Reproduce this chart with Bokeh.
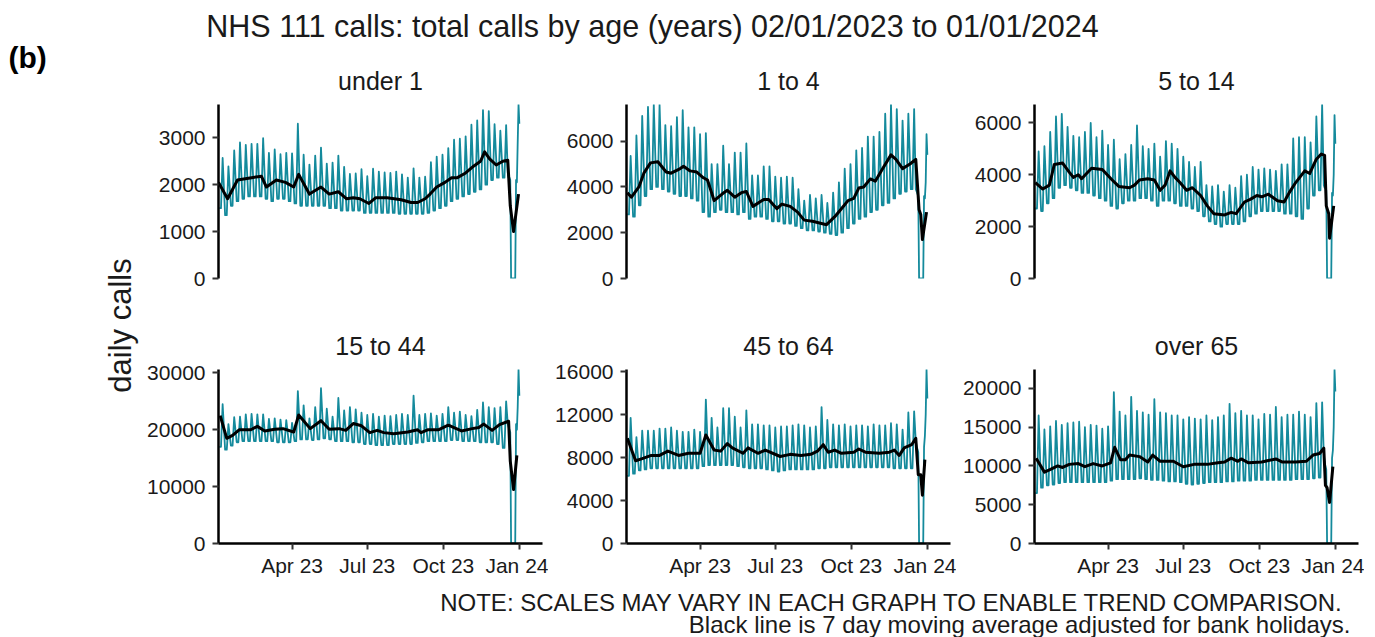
import numpy as np
import pandas as pd
from math import pi
from bokeh.plotting import figure
from bokeh.layouts import row, column
from bokeh.models import Range1d, FixedTicker
from bokeh.core.properties import value
from bokeh.embed import file_html
from bokeh.resources import INLINE

# ---------------- texts ----------------
TITLE = "NHS 111 calls: total calls by age (years) 02/01/2023 to 01/01/2024"
PANEL_LABEL = "(b)"
Y_LABEL = "daily calls"
NOTE_1 = "NOTE: SCALES MAY VARY IN EACH GRAPH TO ENABLE TREND COMPARISON."
NOTE_2 = "Black line is 7 day moving average adjusted for bank holidays."

AGE_GROUPS = ["under 1", "1 to 4", "5 to 14", "15 to 44", "45 to 64", "over 65"]
FIRST_DAY = "2023-01-02"          # Monday, first day of the series
TAIL_FIRST_DAY = "2023-12-18"     # daily values from here to 01/01/2024
X_END = "2024-01-29"
X_TICK_DATES = ["2023-04-01", "2023-07-01", "2023-10-01", "2024-01-01"]
X_TICK_LABELS = ["Apr 23", "Jul 23", "Oct 23", "Jan 24"]

# ---------------- data ----------------
# weekly Saturday peaks, weekday lows (50 weeks from 02/01/2023), daily tail 18/12 - 01/01,
# 7 day moving average (day number since 02/01/2023, value)

# under 1
PEAK_U1 = [2570, 2390, 2730, 2900, 2850, 2870, 2870, 2990, 2680, 2750, 2650, 2680, 2670, 3300, 2640, 2430, 2620,
           2790, 2450, 2470, 2620, 2380, 2230, 2240, 2330, 2180, 2340, 2280, 2260, 2250, 2280, 2220, 2150, 2350,
           2150, 2170, 2480, 2600, 2640, 2780, 2960, 2980, 3030, 3280, 3370, 3590, 3570, 3290, 3150, 3270]
LOW_U1 = [1500, 1350, 1550, 1650, 1700, 1750, 1750, 1750, 1700, 1650, 1700, 1700, 1650, 1600, 1550, 1550, 1550,
          1550, 1550, 1500, 1500, 1450, 1450, 1450, 1450, 1400, 1400, 1400, 1400, 1400, 1400, 1380, 1380, 1380,
          1380, 1380, 1400, 1450, 1500, 1550, 1650, 1700, 1750, 1800, 1850, 1900, 2000, 2100, 2150, 2150]
TAIL_U1 = [2250, 2150, 2150, 2100, 0, 0, 0, 0, 0, 0, 2100, 2050, 2900, 3710, 3300]
MA_DAY_U1 = [0, 11, 23, 40, 52, 58, 70, 81, 91, 97, 110, 124, 134, 145, 155, 163, 171, 182, 190, 204, 221, 233,
             241, 250, 256, 264, 274, 282, 289, 299, 309, 317, 322, 328, 336, 344, 350, 353, 357, 363]
MA_U1 = [2050, 1700, 2100, 2150, 2180, 1950, 2100, 2050, 1950, 2220, 1800, 1950, 1800, 1850, 1700, 1720, 1700,
         1600, 1720, 1720, 1680, 1620, 1620, 1700, 1800, 1950, 2050, 2150, 2150, 2250, 2400, 2500, 2700, 2550,
         2420, 2500, 2520, 1550, 1000, 1800]
YTICKS_U1 = [0, 1000, 2000, 3000]

# 1 to 4
PEAK_1T4 = [5350, 6250, 7100, 7500, 7600, 7600, 6700, 6650, 7050, 7350, 6600, 6600, 6300, 6350, 5000, 5000, 5800,
            5000, 5500, 5500, 5900, 4500, 4500, 4900, 4900, 4450, 4400, 4450, 4400, 3900, 3400, 3650, 3500, 3650,
            3300, 3750, 4200, 4800, 5000, 5600, 5700, 6200, 6200, 6400, 7200, 7600, 7400, 6900, 7200, 7400]
LOW_1T4 = [2800, 2700, 3200, 3600, 3900, 4000, 3900, 3800, 3700, 3600, 3600, 3500, 3400, 2900, 2700, 2900, 3000,
           2900, 2900, 2800, 2900, 2600, 2700, 2700, 2600, 2500, 2500, 2400, 2400, 2300, 2200, 2100, 2100, 2050,
           2000, 1950, 1900, 2000, 2200, 2400, 2600, 2700, 2900, 3000, 3200, 3300, 3500, 3700, 3800, 3900]
TAIL_1T4 = [3900, 3800, 3700, 3600, 0, 0, 0, 0, 0, 0, 3600, 3500, 4200, 6300, 5400]
MA_DAY_1T4 = [1, 6, 15, 21, 29, 38, 48, 54, 65, 69, 77, 85, 93, 98, 106, 116, 122, 131, 139, 145, 153, 166, 172,
              182, 188, 198, 207, 215, 225, 242, 252, 260, 268, 275, 281, 287, 295, 301, 310, 320, 326, 334, 343,
              350, 354, 356, 358, 363]
MA_1T4 = [3750, 3550, 4000, 4600, 5050, 5100, 4650, 4600, 4800, 4900, 4700, 4650, 4400, 4300, 3400, 3700, 3850,
          3550, 3750, 3800, 3150, 3450, 3450, 3050, 3250, 3150, 2900, 2550, 2500, 2350, 2700, 3050, 3400, 3500,
          3950, 4000, 4350, 4250, 4800, 5400, 5200, 4800, 5000, 5200, 3000, 2800, 1700, 2900]
YTICKS_1T4 = [0, 2000, 4000, 6000]

# 5 to 14
PEAK_5T14 = [4900, 5100, 5650, 6250, 6350, 5850, 5500, 5450, 5650, 6000, 5450, 5700, 5150, 5350, 4600, 4800, 5150,
             5900, 5100, 5000, 5200, 4700, 5300, 5200, 5000, 4700, 4500, 4300, 4500, 3600, 3550, 3600, 3350, 3600,
             3500, 3950, 4000, 4300, 4200, 4250, 4200, 4150, 4400, 4400, 5400, 5450, 5450, 5250, 6250, 6710]
LOW_5T14 = [2700, 2600, 2900, 3100, 3500, 3600, 3500, 3400, 3300, 3300, 3200, 3100, 3000, 2800, 2700, 2900, 3000,
            3000, 3100, 3100, 3000, 2800, 3000, 3000, 2900, 2800, 2800, 2700, 2600, 2400, 2200, 2100, 2000, 2100,
            2100, 2100, 2200, 2400, 2500, 2600, 2600, 2600, 2600, 2500, 2500, 2400, 2300, 2700, 3200, 3400]
TAIL_5T14 = [3600, 3500, 3500, 3400, 0, 0, 0, 0, 0, 0, 3300, 3200, 4000, 6300, 5200]
MA_DAY_5T14 = [1, 10, 18, 24, 34, 42, 47, 53, 57, 63, 69, 82, 94, 102, 115, 121, 127, 137, 145, 152, 158, 164, 170,
               176, 184, 191, 201, 209, 217, 230, 238, 244, 254, 261, 269, 275, 283, 294, 302, 308, 316, 327, 333,
               341, 347, 351, 353, 356, 357, 362]
MA_5T14 = [3700, 3450, 3600, 4400, 4450, 4100, 3900, 4000, 3850, 4050, 4250, 4200, 3800, 3550, 3500, 3600, 3800,
           3850, 3800, 3400, 3600, 4150, 3900, 3700, 3400, 3500, 3200, 2800, 2500, 2450, 2550, 2500, 2950, 3050,
           3200, 3150, 3250, 3000, 2950, 3300, 3700, 4150, 4050, 4600, 4800, 4750, 2800, 2500, 1550, 2800]
YTICKS_5T14 = [0, 2000, 4000, 6000]

# 15 to 44
PEAK_15T44 = [24500, 21000, 22200, 22300, 22700, 22800, 22700, 22700, 21900, 22000, 21800, 21700, 21200, 26800,
              24300, 22000, 24000, 27300, 23700, 22300, 25600, 23400, 24000, 23600, 23000, 22600, 22800, 22300,
              22500, 22400, 22600, 22800, 22600, 26000, 22600, 22800, 22900, 22500, 22800, 24000, 23000, 23200,
              22600, 22400, 23500, 24800, 24000, 23800, 24000, 25000]
LOW_15T44 = [17000, 16500, 17200, 17800, 18000, 18000, 18000, 18000, 18000, 18000, 17800, 17800, 17800, 18000,
             18300, 18300, 18200, 18300, 18500, 18300, 18000, 18000, 18000, 17800, 17800, 17500, 17500, 17300,
             17300, 17300, 17500, 17500, 17500, 17500, 17700, 17800, 18000, 18000, 18000, 18000, 18200, 18200,
             18000, 18000, 18000, 17800, 17800, 17800, 17500, 16800]
TAIL_15T44 = [21000, 20500, 20000, 19500, 0, 0, 0, 0, 0, 0, 21000, 20000, 24000, 30600, 26000]
MA_DAY_15T44 = [2, 10, 17, 25, 39, 47, 56, 68, 78, 91, 97, 111, 124, 134, 146, 154, 163, 173, 183, 192, 200, 212,
                229, 241, 245, 253, 266, 278, 294, 307, 315, 321, 331, 340, 351, 353, 357, 361]
MA_15T44 = [22500, 18500, 19000, 20000, 20000, 20600, 19800, 20100, 20200, 19600, 22600, 20200, 21600, 20100,
            20200, 19900, 21100, 20700, 19500, 19900, 19500, 19300, 19600, 20000, 19500, 20000, 20000, 20800,
            19800, 20200, 20400, 21000, 19900, 20900, 21500, 14500, 9500, 15500]
YTICKS_15T44 = [0, 10000, 20000, 30000]

# 45 to 64
PEAK_45T64 = [11700, 9900, 10500, 10500, 10500, 10700, 10700, 10800, 10500, 10400, 10400, 10600, 10400, 13400,
              11700, 10800, 12600, 12600, 11800, 10800, 12400, 11100, 11100, 11000, 11000, 10800, 10900, 10900,
              11000, 11100, 11000, 10800, 10900, 12700, 11500, 11100, 11000, 11100, 10900, 11000, 11000, 10900,
              11100, 11000, 11000, 11200, 11100, 10600, 12200, 12300]
LOW_45T64 = [6300, 6500, 6800, 6900, 7000, 7000, 7000, 7000, 7000, 7000, 7000, 7000, 7000, 7200, 7300, 7300, 7300,
             7300, 7300, 7200, 7100, 7000, 7000, 7000, 6900, 6800, 6700, 6800, 6900, 6900, 6900, 6900, 6900, 7000,
             7000, 7100, 7100, 7100, 7100, 7100, 7100, 7100, 7100, 7100, 7100, 7100, 7000, 7000, 7000, 7000]
TAIL_45T64 = [9500, 9000, 8800, 8500, 0, 0, 0, 0, 0, 0, 9000, 10000, 12000, 16200, 13500]
MA_DAY_45T64 = [1, 11, 19, 30, 40, 50, 63, 75, 89, 96, 106, 114, 122, 128, 141, 147, 159, 168, 186, 198, 211, 223,
                231, 238, 244, 252, 260, 275, 281, 289, 306, 318, 324, 330, 336, 345, 350, 353, 356, 358, 361]
MA_45T64 = [9800, 7700, 7900, 8200, 8200, 8600, 8200, 8400, 8400, 10100, 8700, 8600, 9300, 8900, 8400, 8900, 8400,
            8700, 8100, 8300, 8200, 8300, 8600, 9200, 8500, 8700, 8400, 8500, 8800, 8500, 8400, 8500, 8700, 8200,
            8900, 9200, 9800, 6400, 6400, 4500, 7800]
YTICKS_45T64 = [0, 4000, 8000, 12000, 16000]

# over 65
PEAK_O65 = [16500, 14700, 15100, 15800, 15300, 15500, 15600, 15700, 15000, 15300, 15200, 14800, 15100, 19500, 17000,
            16500, 18900, 17100, 16900, 16600, 18600, 16900, 16800, 16500, 16500, 16000, 16300, 16100, 16000, 16500,
            15900, 16300, 16500, 18000, 16800, 17100, 16500, 16500, 16000, 16700, 16600, 17600, 16300, 16600, 16600,
            17000, 16600, 16300, 18100, 18200]
LOW_O65 = [6500, 7200, 7500, 7600, 7800, 7900, 7900, 7900, 7900, 7900, 7900, 7900, 7900, 8100, 8300, 8300, 8300,
           8300, 8400, 8300, 8200, 8200, 8100, 8000, 8000, 7900, 7700, 7600, 7700, 7800, 7900, 7900, 7900, 8000,
           8000, 8100, 8100, 8100, 8200, 8200, 8200, 8200, 8200, 8200, 8200, 8300, 8300, 8300, 8400, 8500]
TAIL_O65 = [11500, 10500, 10000, 9500, 0, 0, 0, 0, 0, 0, 11000, 12000, 15000, 22430, 19600]
MA_DAY_O65 = [2, 12, 20, 28, 34, 42, 53, 61, 71, 82, 92, 97, 104, 110, 115, 127, 137, 143, 152, 168, 180, 193, 209,
              222, 230, 238, 246, 250, 259, 275, 283, 292, 300, 316, 329, 337, 345, 350, 352, 354, 357, 361]
MA_O65 = [11000, 9200, 9600, 10000, 9800, 10200, 10300, 9900, 10300, 10000, 10400, 12400, 10800, 10800, 11400,
          11200, 10500, 11400, 10600, 10600, 9900, 10200, 10200, 10400, 10500, 11000, 10600, 10900, 10400, 10500,
          10700, 10900, 10500, 10500, 10600, 11400, 11600, 12300, 7500, 7200, 5300, 9900]
YTICKS_O65 = [0, 5000, 10000, 15000, 20000]

PANELS = [
    (AGE_GROUPS[0], PEAK_U1, LOW_U1, TAIL_U1, MA_DAY_U1, MA_U1, YTICKS_U1),
    (AGE_GROUPS[1], PEAK_1T4, LOW_1T4, TAIL_1T4, MA_DAY_1T4, MA_1T4, YTICKS_1T4),
    (AGE_GROUPS[2], PEAK_5T14, LOW_5T14, TAIL_5T14, MA_DAY_5T14, MA_5T14, YTICKS_5T14),
    (AGE_GROUPS[3], PEAK_15T44, LOW_15T44, TAIL_15T44, MA_DAY_15T44, MA_15T44, YTICKS_15T44),
    (AGE_GROUPS[4], PEAK_45T64, LOW_45T64, TAIL_45T64, MA_DAY_45T64, MA_45T64, YTICKS_45T64),
    (AGE_GROUPS[5], PEAK_O65, LOW_O65, TAIL_O65, MA_DAY_O65, MA_O65, YTICKS_O65),
]

# ---------------- styles ----------------
FONT = "Liberation Sans"
TEAL = "#148A9C"
TEXT = "#1a1a1a"
START = pd.Timestamp(FIRST_DAY)
TAIL_START = pd.Timestamp(TAIL_FIRST_DAY)


def ms(ts):
    return pd.Timestamp(ts).value / 1e6


def day_ms(d, base=START):
    return ms(base + pd.Timedelta(days=int(d)))


def teal_series(peaks, lows, tail):
    xs, ys = [], []
    for k, (pk, lo) in enumerate(zip(peaks, lows)):
        # Tuesday and Thursday at the weekday level, Saturday peak
        for off, v in ((1, lo), (3, lo), (5, pk)):
            xs.append(day_ms(7 * k + off))
            ys.append(v)
    for i, v in enumerate(tail):
        xs.append(day_ms(i, TAIL_START))
        ys.append(v)
    return xs, ys


X0 = ms(FIRST_DAY)
X1 = ms(X_END)
XTICKS = [int(ms(d)) for d in X_TICK_DATES]

LEFT_W = 140
PANEL_W = 408
BORDER_L = 78
BORDER_R = 6
FRAME_H = 174
HEADER_H = 52
FOOTER_H = 52
ROW1 = (52, 12)   # top / bottom borders
ROW2 = (79, 42)
TOTAL_H = HEADER_H + (ROW1[0] + FRAME_H + ROW1[1]) + (ROW2[0] + FRAME_H + ROW2[1]) + FOOTER_H
RIGHT_W = 3 * PANEL_W


def style_axis(ax, ticks, standoff):
    ax.ticker = FixedTicker(ticks=ticks)
    ax.axis_line_color = "black"
    ax.axis_line_width = 2.5
    ax.major_tick_line_color = "#333333"
    ax.major_tick_line_width = 2
    ax.major_tick_out = 6
    ax.major_tick_in = 0
    ax.minor_tick_line_color = None
    ax.major_label_text_font = FONT
    ax.major_label_text_font_size = "21px"
    ax.major_label_text_color = TEXT
    ax.major_label_standoff = standoff


def make_panel(name, peaks, lows, tail, ma_day, ma, yticks, bottom_row):
    tx, ty = teal_series(peaks, lows, tail)
    ymax = max(max(ty), max(ma))
    top, bot = ROW2 if bottom_row else ROW1
    p = figure(width=PANEL_W, height=top + FRAME_H + bot,
               x_range=Range1d(X0, X1), y_range=Range1d(0, ymax),
               output_backend="svg", toolbar_location=None,
               min_border_left=BORDER_L, min_border_right=BORDER_R,
               min_border_top=top, min_border_bottom=bot, title=name)
    p.title.align = "center"
    p.title.text_font = FONT
    p.title.text_font_size = "25px"
    p.title.text_font_style = "normal"
    p.title.text_color = TEXT
    p.title.standoff = 20
    p.outline_line_color = None
    p.xgrid.visible = False
    p.ygrid.visible = False
    p.background_fill_color = "white"
    p.border_fill_color = "white"

    p.line(tx, ty, line_color=TEAL, line_width=1.8, line_join="round")
    p.line([day_ms(d) for d in ma_day], ma, line_color="black", line_width=3, line_join="round")

    for ax in p.yaxis:
        style_axis(ax, yticks, 7)
    for ax in p.xaxis:
        if not bottom_row:
            ax.visible = False
            continue
        style_axis(ax, XTICKS, 4)
        ax.major_label_overrides = {t: lab for t, lab in zip(XTICKS, X_TICK_LABELS)}
    return p


def blank(width, height):
    p = figure(width=width, height=height, x_range=Range1d(0, width), y_range=Range1d(0, height),
               output_backend="svg", toolbar_location=None, x_axis_location=None, y_axis_location=None,
               title=None, min_border_left=0, min_border_right=0, min_border_top=0, min_border_bottom=0)
    p.outline_line_color = None
    p.xgrid.visible = False
    p.ygrid.visible = False
    return p


panels = [make_panel(*spec, bottom_row=(i >= 3)) for i, spec in enumerate(PANELS)]

# text centres (page pixels from the top)
left = blank(LEFT_W, TOTAL_H)
left.text(x=[8], y=[TOTAL_H - 57], text=[PANEL_LABEL], text_font=value(FONT), text_font_size="30px",
          text_font_style="bold", text_color="black", text_align="left", text_baseline="middle")
left.text(x=[120], y=[TOTAL_H - 325], text=[Y_LABEL], text_font=value(FONT), text_font_size="31px",
          text_color=TEXT, text_align="center", text_baseline="middle", angle=pi / 2)

header = blank(RIGHT_W, HEADER_H)
header.text(x=[652 - LEFT_W], y=[HEADER_H - 25], text=[TITLE], text_font=value(FONT), text_font_size="30.5px",
            text_color=TEXT, text_align="center", text_baseline="middle")

footer = blank(RIGHT_W, FOOTER_H)
footer.text(x=[1343 - LEFT_W, 1350 - LEFT_W], y=[TOTAL_H - 602, TOTAL_H - 624], text=[NOTE_1, NOTE_2],
            text_font=value(FONT), text_font_size="24px", text_color=TEXT, text_align="right",
            text_baseline="middle")

layout = row(left, column(header, row(*panels[:3]), row(*panels[3:]), footer))

open("out.html", "w").write(file_html(layout, INLINE))
